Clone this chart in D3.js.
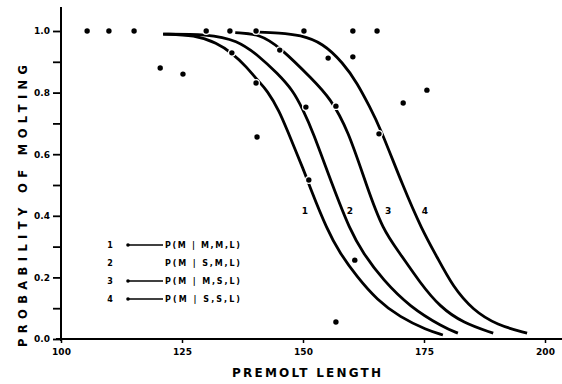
<!DOCTYPE html>
<html>
<head>
<meta charset="utf-8">
<script src="https://cdn.jsdelivr.net/npm/d3@7"></script>
<style>
  body { margin: 0; background: #fff; }
  text { font-family: "DejaVu Sans", sans-serif; font-weight: bold; fill: #000; }
</style>
</head>
<body>
<div id="chart"></div>
<script>
// premolt length ticks and probability ticks
var lengthTicks = [100, 125, 150, 175, 200];
var probTicks = [0, 0.1, 0.2, 0.3, 0.4, 0.5, 0.6, 0.7, 0.8, 0.9, 1.0];
var probLabels = ['0.0', '', '0.2', '', '0.4', '', '0.6', '', '0.8', '', '1.0'];

// fitted curves: [premolt length, probability]
var curve1 = [[121.1, 0.990], [127.7, 0.987], [132.2, 0.961], [135.3, 0.929], [138.4, 0.883],
  [140.5, 0.841], [142.6, 0.808], [145.2, 0.737], [146.7, 0.679], [150.4, 0.539], [151.4, 0.494],
  [155.0, 0.354], [157.6, 0.279], [161.2, 0.201], [165.3, 0.127], [170.0, 0.071], [175.6, 0.029],
  [178.9, 0.013]];
var curve2 = [[121.1, 0.990], [130.2, 0.990], [136.4, 0.971], [141.1, 0.916], [144.6, 0.864],
  [147.9, 0.808], [150.0, 0.744], [151.9, 0.679], [156.2, 0.494], [159.7, 0.354], [162.4, 0.279],
  [166.5, 0.192], [172.1, 0.104], [178.9, 0.039], [182.0, 0.019]];
var curve3 = [[136.0, 0.995], [141.1, 0.990], [145.2, 0.948], [152.1, 0.841], [155.6, 0.782],
  [159.3, 0.679], [163.2, 0.494], [166.5, 0.354], [170.0, 0.279], [174.2, 0.182], [178.3, 0.104],
  [183.1, 0.052], [189.3, 0.019]];
var curve4 = [[140.1, 0.997], [145.2, 0.994], [149.4, 0.987], [154.1, 0.961], [158.3, 0.896],
  [161.2, 0.831], [163.8, 0.753], [165.9, 0.688], [170.7, 0.494], [174.6, 0.354], [177.7, 0.266],
  [181.0, 0.169], [185.1, 0.094], [190.1, 0.045], [196.3, 0.019]];

// observed proportions
var moltDots = [[105.4, 1.0], [109.9, 1.0], [115.1, 1.0], [120.5, 0.880], [125.2, 0.860],
  [130.0, 1.0], [134.9, 1.0], [135.3, 0.929], [140.3, 1.0], [140.3, 0.831], [140.5, 0.656],
  [145.2, 0.938], [150.2, 1.0], [150.6, 0.753], [151.2, 0.516], [155.2, 0.912], [156.8, 0.756],
  [160.3, 1.0], [160.3, 0.916], [160.7, 0.256], [156.8, 0.055], [165.3, 1.0], [165.7, 0.666],
  [170.7, 0.766], [175.6, 0.808]];

var curveNames = ['1', '2', '3', '4'];
var curveLabelX = [150.4, 159.7, 167.6, 175.2];
var curveLabelP = 0.415;

var legendText = ['P(M | M,M,L)', 'P(M | S,M,L)', 'P(M | M,S,L)', 'P(M | S,S,L)'];
var legendHasLine = [true, false, true, true];

var width = 562, height = 384;

var svg = d3.select('#chart').append('svg')
  .attr('width', width)
  .attr('height', height);

var x = d3.scaleLinear().domain([100, 200]).range([61, 545]);
var y = d3.scaleLinear().domain([0, 1]).range([339, 31]);

// axis spines
svg.append('line')
  .attr('x1', x(100)).attr('x2', x(100))
  .attr('y1', 7).attr('y2', y(0) + 2)
  .attr('stroke', '#000').attr('stroke-width', 2);
svg.append('line')
  .attr('x1', x(100) - 5).attr('x2', width)
  .attr('y1', y(0)).attr('y2', y(0))
  .attr('stroke', '#000').attr('stroke-width', 2);

var yAxis = svg.append('g')
  .attr('transform', 'translate(' + x(100) + ',0)')
  .call(d3.axisLeft(y)
    .tickValues(probTicks)
    .tickSize(8)
    .tickPadding(3)
    .tickFormat((d, i) => probLabels[i]));
yAxis.select('.domain').remove();
yAxis.selectAll('line').attr('stroke', '#000').attr('stroke-width', 1.8);
yAxis.selectAll('text').style('font-size', '9px').style('font-family', '"DejaVu Sans", sans-serif')
  .style('font-weight', 'bold');

var xAxis = svg.append('g')
  .attr('transform', 'translate(0,' + y(0) + ')')
  .call(d3.axisBottom(x)
    .tickValues(lengthTicks)
    .tickSize(4)
    .tickPadding(6)
    .tickFormat(d3.format('d')));
xAxis.select('.domain').remove();
xAxis.selectAll('line').attr('stroke', '#000').attr('stroke-width', 1.5);
xAxis.selectAll('text').style('font-size', '9px').style('font-family', '"DejaVu Sans", sans-serif')
  .style('font-weight', 'bold');

// axis titles
svg.append('text')
  .attr('x', 232).attr('y', 377)
  .attr('textLength', 149).attr('lengthAdjust', 'spacing')
  .style('font-size', '12px')
  .text('PREMOLT LENGTH');

svg.append('text')
  .attr('transform', 'translate(27,347) rotate(-90)')
  .attr('textLength', 282).attr('lengthAdjust', 'spacing')
  .style('font-size', '11.5px')
  .text('PROBABILITY OF MOLTING');

// curves, basis smooths out the reading noise
var line = d3.line()
  .x(d => x(d[0]))
  .y(d => y(d[1]))
  .curve(d3.curveBasis);

svg.append('g').selectAll('path')
  .data([curve1, curve2, curve3, curve4])
  .enter()
  .append('path')
  .attr('d', line)
  .attr('fill', 'none')
  .attr('stroke', '#000')
  .attr('stroke-width', 2.8);

// dots, white halo breaks the curves where they sit on them
svg.append('g').selectAll('circle')
  .data(moltDots)
  .enter()
  .append('circle')
  .attr('cx', d => x(d[0]))
  .attr('cy', d => y(d[1]))
  .attr('r', 2.7)
  .attr('fill', '#000')
  .attr('stroke', '#fff')
  .attr('stroke-width', 2.5)
  .attr('paint-order', 'stroke');

// curve numbers
svg.append('g').selectAll('text')
  .data(curveNames)
  .enter()
  .append('text')
  .attr('x', (d, i) => x(curveLabelX[i]))
  .attr('y', y(curveLabelP))
  .attr('text-anchor', 'middle')
  .attr('dy', '0.35em')
  .style('font-size', '9px')
  .text(d => d);

// legend
var legend = svg.append('g').selectAll('g')
  .data(legendText)
  .enter()
  .append('g')
  .attr('transform', (d, i) => 'translate(0,' + (245 + i * 18) + ')');

legend.append('text')
  .attr('x', 110).attr('dy', '0.35em')
  .attr('text-anchor', 'middle')
  .style('font-size', '8px')
  .text((d, i) => curveNames[i]);

legend.filter((d, i) => legendHasLine[i])
  .append('line')
  .attr('x1', 128).attr('x2', 163)
  .attr('stroke', '#000').attr('stroke-width', 1.6);

legend.filter((d, i) => legendHasLine[i])
  .append('circle')
  .attr('cx', 128).attr('r', 1.8)
  .attr('fill', '#000');

legend.append('text')
  .attr('x', 165).attr('dy', '0.35em')
  .attr('textLength', 75).attr('lengthAdjust', 'spacing')
  .style('font-size', '8px')
  .text(d => d);
</script>
</body>
</html>
